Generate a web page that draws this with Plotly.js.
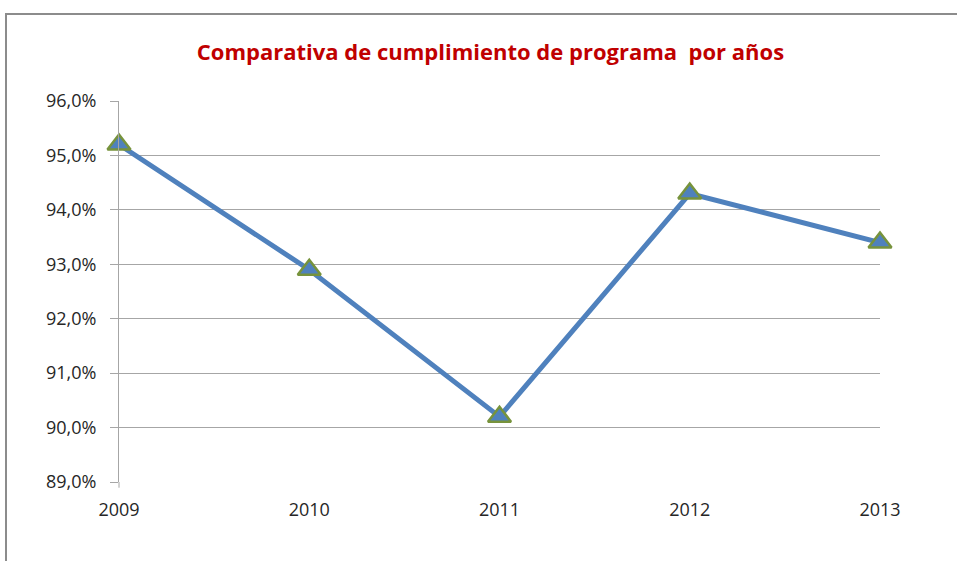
<!DOCTYPE html>
<html>
<head>
<meta charset="utf-8">
<script src="https://cdn.plot.ly/plotly-3.0.1.min.js"></script>
<style>html,body{margin:0;padding:0;background:#fff;}#chart{width:957px;height:561px;}</style>
</head>
<body>
<div id="chart"></div>
<script>
const years = [2009, 2010, 2011, 2012, 2013];
const cumplimiento = [0.952, 0.929, 0.902, 0.943, 0.934];
const yTicks = [0.89, 0.90, 0.91, 0.92, 0.93, 0.94, 0.95, 0.96];
const chartTitle = 'Comparativa de cumplimiento de programa  por años';

const trace = {
  x: years,
  y: cumplimiento,
  type: 'scatter',
  mode: 'lines+markers',
  line: {color: '#4F81BD', width: 5},
  marker: {symbol: 'triangle-up', size: 20, color: '#4F81BD', line: {color: '#77933C', width: 2.5}},
  cliponaxis: false,
  hoverinfo: 'skip'
};

const layout = {
  width: 957, height: 561,
  margin: {l: 119, r: 77, t: 101, b: 79},
  paper_bgcolor: '#ffffff', plot_bgcolor: '#ffffff',
  separators: ',.',
  showlegend: false,
  font: {family: 'Open Sans, sans-serif', color: '#404040', size: 18},
  title: {
    text: '<b>' + chartTitle + '</b>',
    font: {family: 'Open Sans, sans-serif', size: 22, color: '#C00000'},
    x: 0.5125, xanchor: 'center', y: 0.907, yanchor: 'middle'
  },
  xaxis: {
    type: 'linear', range: [2009, 2013],
    tickvals: years, ticktext: years.map(String),
    showgrid: false, zeroline: false,
    showline: false,
    ticks: 'outside', ticklen: 0, tickcolor: '#A6A6A6',
    ticklabelstandoff: 11,
    tickfont: {size: 18, color: '#262626'}
  },
  yaxis: {
    range: [0.89, 0.96],
    tickvals: yTicks, tickformat: '.1%',
    showgrid: true, gridcolor: '#A6A6A6', gridwidth: 1,
    zeroline: false,
    showline: true, linecolor: '#A6A6A6', linewidth: 1,
    ticks: 'outside', ticklen: 8, tickcolor: '#A6A6A6',
    ticklabelstandoff: 10,
    tickfont: {size: 18, color: '#262626'}
  },
  shapes: [
    {type: 'line', xref: 'paper', yref: 'paper', x0: 0, x1: 0, y0: 0, y1: -0.015, line: {color: '#A6A6A6', width: 1}},
    {type: 'rect', xref: 'paper', yref: 'paper', x0: (6 - 119) / 761, x1: 1.2, y0: -0.3, y1: 1 + (101 - 14) / 381, line: {color: '#8C8C8C', width: 2}, fillcolor: 'rgba(0,0,0,0)'}
  ]
};

Plotly.newPlot('chart', [trace], layout, {displayModeBar: false, staticPlot: true});
</script>
</body>
</html>
